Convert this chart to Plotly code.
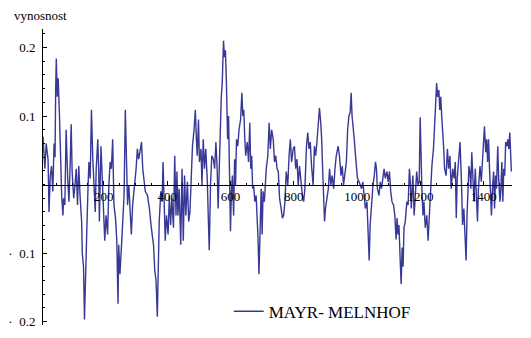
import plotly.graph_objects as go

day = [8,14,18,24,27,31,35,39,43,46,48,50,53,56,60,64,67,71,73,77,81,86,90,94,97,100,105,109,113,117,121,125,130,132,136,139,142,146,150,153,157,161,165,169,173,176,181,
       184,186,191,195,199,203,207,212,216,220,224,228,232,237,241,245,247,251,256,260,264,268,272,275,279,283,287,291,297,302,306,310,314,319,323,327,331,338,344,350,357,361,365,369,
       371,375,380,384,387,390,394,398,403,407,411,415,420,424,428,431,434,438,443,447,451,455,459,464,468,472,476,480,485,489,492,495,499,502,507,510,514,518,522,527,530,533,537,541,546,550,554,558,
       561,565,568,571,574,578,581,584,587,591,594,597,600,603,606,610,613,616,619,623,627,632,636,639,642,645,648,653,657,661,664,667,670,673,677,681,684,687,690,694,697,700,703,707,710,713,718,722,726,730,735,739,743,747,
       751,755,760,764,768,772,776,781,785,789,793,798,802,806,810,814,818,823,827,831,835,840,844,848,852,856,861,865,869,873,877,881,885,888,891,894,897,900,905,909,913,917,921,926,930,934,
       940,944,949,953,957,961,966,970,974,978,981,984,988,991,994,997,1001,1006,1010,1014,1018,1022,1026,1031,1035,1038,1041,1045,1050,1054,1058,1061,1064,1069,1073,1077,1081,1085,1089,1094,1098,1102,1106,1110,1115,1119,1123,
       1126,1129,1132,1136,1139,1142,1145,1148,1152,1157,1161,1165,1168,1171,1176,1180,1184,1188,1192,1196,1199,1202,1205,1208,1211,1215,1220,1224,1228,1232,1236,1241,1245,1248,1251,1254,1258,1261,1264,1267,1270,1273,1276,1281,1285,1289,1293,1297,1302,1306,1310,1313,
       1316,1321,1325,1329,1333,1337,1341,1344,1347,1350,1353,1356,1359,1362,1366,1369,1373,1377,1380,1383,1388,1392,1396,1399,1402,1406,1409,1412,1415,1418,1421,1424,1428,1431,1434,1437,1440,1444,1447,1451,1454,1457,1460,1463,1466,1469,1473,1476,1479,1482,1485,1487]

vynosnost = [0.07,0.023,0.06,0.037,-0.04,0.013,0.027,-0.01,0.06,0.04,0.138,0.184,0.128,0.155,0.1,0.009,-0.016,-0.045,-0.02,-0.03,0.08,0.009,-0.025,0.033,0.088,0.019,-0.02,-0.001,0.023,-0.03,0.027,-0.016,-0.054,-0.1,-0.12,-0.197,-0.126,-0.073,-0.006,0.033,0.009,0.109,0.04,-0.006,-0.04,0.023,0.066,
             0.019,-0.054,0.056,0.009,-0.063,-0.082,-0.045,-0.073,-0.001,0.033,0.023,0.066,-0.03,-0.049,-0.082,-0.174,-0.088,-0.131,-0.088,-0.045,-0.016,0.109,0.033,-0.03,-0.001,-0.035,-0.073,-0.03,-0.006,0.023,0.052,0.037,0.047,0.062,0.023,0.004,-0.01,-0.016,-0.035,-0.063,-0.088,-0.126,-0.14,-0.193,
             -0.12,-0.054,-0.01,-0.025,0.033,-0.04,-0.082,-0.045,-0.073,-0.016,-0.059,-0.02,-0.063,0.042,-0.045,0.019,-0.045,-0.006,-0.088,0.023,-0.082,0.013,-0.045,0.004,-0.054,-0.04,0.009,0.056,0.08,0.109,0.07,0.042,0.095,0.033,0.052,-0.001,0.066,0.023,0.052,0.004,-0.049,-0.096,-0.001,0.042,0.037,0.023,0.062,0.023,
             -0.035,0.042,0.08,0.128,0.148,0.21,0.186,0.196,0.152,0.066,0.1,-0.02,-0.068,-0.01,0.013,-0.045,0.037,-0.001,0.066,0.056,0.08,0.095,0.134,0.1,0.109,0.07,0.042,0.062,0.033,0.09,0.023,0.042,-0.006,-0.001,-0.025,-0.016,-0.045,-0.078,-0.131,-0.059,-0.006,-0.073,-0.01,-0.025,-0.001,0.023,0.042,0.09,0.052,0.08,0.066,0.033,0.042,0.023,
             0.019,-0.02,-0.035,-0.049,-0.045,-0.025,0.019,-0.001,0.042,0.066,0.033,0.052,0.056,0.023,0.037,-0.001,0.027,-0.001,-0.016,-0.025,-0.006,0.056,0.076,0.052,0.062,0.027,-0.001,0.056,0.042,0.062,0.095,0.112,0.09,0.066,0.023,-0.035,-0.054,-0.035,-0.016,-0.006,0.023,-0.001,0.013,-0.006,0.023,0.042,
             0.056,0.042,0.013,0.027,-0.001,0.019,0.033,0.08,0.1,0.105,0.134,0.1,0.085,0.066,0.047,0.027,0.009,0.004,-0.001,-0.006,0.004,-0.016,-0.035,-0.025,-0.063,-0.111,-0.059,-0.025,-0.001,0.013,0.033,0.023,-0.006,-0.016,0.004,-0.006,0.013,0.023,0.009,0.019,0.004,0.019,-0.01,-0.025,-0.03,-0.045,-0.08,
             -0.049,-0.073,-0.059,-0.111,-0.145,-0.092,-0.12,-0.063,-0.054,-0.025,-0.03,0.023,0.004,-0.035,0.013,-0.045,-0.016,0.019,-0.001,0.004,0.098,0.033,-0.016,-0.045,-0.025,-0.063,-0.045,-0.082,-0.045,-0.001,0.027,0.052,0.085,0.124,0.148,0.128,0.138,0.109,0.128,0.1,0.08,0.056,0.023,0.013,0.052,0.023,0.042,-0.006,0.023,0.009,0.033,-0.049,
             0.009,0.033,0.062,0.009,-0.059,-0.035,-0.078,-0.111,-0.045,-0.006,0.027,0.019,-0.006,0.047,0.013,-0.025,0.023,-0.02,-0.054,-0.006,0.027,0.004,0.042,0.062,0.085,0.047,0.066,0.033,0.066,0.023,-0.025,-0.045,-0.001,0.019,-0.035,0.013,-0.006,0.056,0.009,-0.025,-0.006,0.033,-0.025,0.023,0.013,0.062,0.056,0.066,0.052,0.076,0.042,0.019]

x_ticks = [200, 400, 600, 800, 1000, 1200, 1400]
x_labels = ["200", "400", "600", "800", "1000", "1200", "1400"]
y_ticks = [-0.2, -0.1, 0.1, 0.2]
y_labels = ["·  0.2", "·  0.1", "0.1", "0.2"]
series_name = "MAYR- MELNHOF"
y_title = "vynosnost"

XR = [8, 1489]
YR = [-0.205, 0.227]
FONT = "Liberation Serif, Times New Roman, Times, serif"

fig = go.Figure()
fig.add_trace(go.Scatter(x=day, y=vynosnost, mode="lines", name=series_name,
                         line=dict(color="#383896", width=1.4)))

fig.update_layout(
    width=531, height=338,
    margin=dict(l=40, r=19, t=29, b=8),
    paper_bgcolor="white", plot_bgcolor="white",
    font=dict(family=FONT, size=13, color="black"),
    showlegend=True,
    legend=dict(x=0.396, y=0.045, xanchor="left", yanchor="middle",
                font=dict(family=FONT, size=17, color="black"),
                bgcolor="rgba(0,0,0,0)"),
    xaxis=dict(range=XR, anchor="free", position=(0 - YR[0]) / (YR[1] - YR[0]),
               showgrid=False, zeroline=False, showline=True, linecolor="black", linewidth=1,
               tickmode="array", tickvals=x_ticks, ticktext=x_labels,
               ticks="inside", ticklen=4, tickcolor="black", tickwidth=1,
               minor=dict(tickmode="array", tickvals=list(range(50, 1489, 50)), ticks="inside", ticklen=2, tickcolor="black"),
               tickfont=dict(family=FONT, size=13)),
    yaxis=dict(range=YR, showgrid=False, zeroline=False, showline=True, linecolor="black", linewidth=1,
               tickmode="array", tickvals=y_ticks, ticktext=y_labels,
               ticks="inside", ticklen=4, tickcolor="black", tickwidth=1,
               minor=dict(tickmode="array", tickvals=[round(-0.2 + 0.02 * i, 2) for i in range(22)], ticks="inside", ticklen=2, tickcolor="black"),
               ticklabelstandoff=4,
               tickfont=dict(family=FONT, size=13)),
    annotations=[dict(text=y_title, xref="paper", yref="paper", x=0, y=1, xanchor="left", yanchor="bottom",
                      xshift=-31, yshift=4, showarrow=False, font=dict(family=FONT, size=13))],
)

fig.write_html("out.html")
